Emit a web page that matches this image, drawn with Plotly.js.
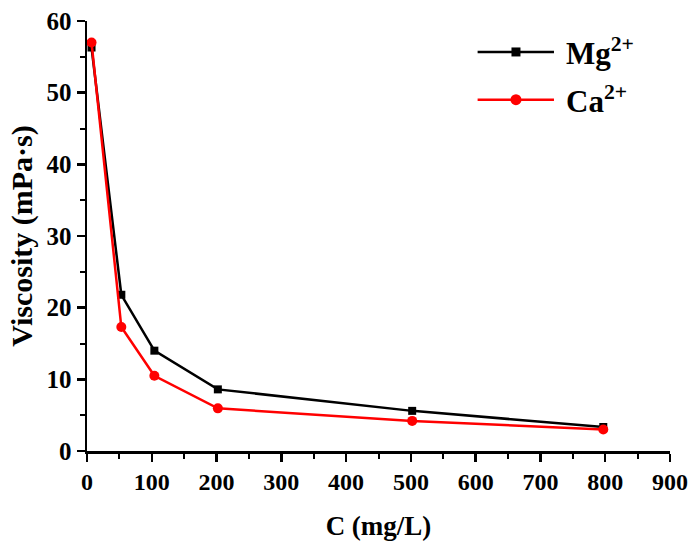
<!DOCTYPE html>
<html>
<head>
<meta charset="utf-8">
<script src="https://cdn.plot.ly/plotly-3.0.1.min.js"></script>
<style>html,body{margin:0;padding:0;background:#fff;}#chart{width:688px;height:541px;}</style>
</head>
<body>
<div id="chart"></div>
<script>
const concentration = [7, 53, 104, 202, 502, 797];
const mgViscosity = [56.3, 21.8, 14.0, 8.6, 5.6, 3.35];
const caViscosity = [57.0, 17.3, 10.5, 5.95, 4.2, 3.0];
const xTicks = [0, 100, 200, 300, 400, 500, 600, 700, 800, 900];
const yTicks = [0, 10, 20, 30, 40, 50, 60];
const seriesNames = ['Mg', 'Ca'];
const seriesColors = ['#000000', '#ff0000'];

const font = {family: 'Liberation Serif, Times New Roman, serif', color: '#000'};

const traces = [
  {x: concentration, y: mgViscosity, name: seriesNames[0], mode: 'lines+markers', type: 'scatter',
   line: {color: seriesColors[0], width: 2.5}, marker: {symbol: 'square', size: 8, color: seriesColors[0]}},
  {x: concentration, y: caViscosity, name: seriesNames[1], mode: 'lines+markers', type: 'scatter',
   line: {color: seriesColors[1], width: 2.5}, marker: {symbol: 'circle', size: 10, color: seriesColors[1]}}
];

// manual legend (paper coords) to get long sample lines
const legX0 = 0.670, legX1 = 0.801, legXm = 0.7358, legTextX = 0.818;
const legY = [0.928, 0.817];
const shapes = [];
const annotations = [];
seriesNames.forEach((n, i) => {
  shapes.push({type: 'line', xref: 'paper', yref: 'paper', x0: legX0, x1: legX1, y0: legY[i], y1: legY[i],
               line: {color: seriesColors[i], width: 2.5}});
  shapes.push({type: i === 0 ? 'rect' : 'circle', xref: 'paper', yref: 'paper',
               xsizemode: 'pixel', ysizemode: 'pixel', xanchor: legXm, yanchor: legY[i],
               x0: i === 0 ? -4.5 : -5.5, x1: i === 0 ? 4.5 : 5.5, y0: i === 0 ? -4.5 : -5.5, y1: i === 0 ? 4.5 : 5.5,
               fillcolor: seriesColors[i], line: {color: seriesColors[i], width: 0}});
  annotations.push({xref: 'paper', yref: 'paper', x: legTextX, y: legY[i], xanchor: 'left', yanchor: 'middle',
                    showarrow: false, text: '<b>' + n + '<sup>2+</sup></b>', font: Object.assign({}, font, {size: 31})});
});

const layout = {
  width: 688, height: 541,
  margin: {l: 87, r: 18, t: 21, b: 90},
  paper_bgcolor: '#fff', plot_bgcolor: '#fff',
  showlegend: false,
  shapes: shapes,
  annotations: annotations,
  xaxis: {range: [0, 900], tickvals: xTicks, ticktext: xTicks.map(v => '<b>' + v + '</b>'),
          ticks: 'outside', ticklen: 8, tickwidth: 2.5, tickcolor: '#000',
          showline: true, linecolor: '#000', linewidth: 2.5, showgrid: false, zeroline: false,
          minor: {dtick: 50, ticks: 'outside', ticklen: 5, tickwidth: 2, tickcolor: '#000', showgrid: false},
          tickfont: Object.assign({}, font, {size: 24}),
          title: {text: '<b>C (mg/L)</b>', font: Object.assign({}, font, {size: 27}), standoff: 22}},
  yaxis: {range: [0, 60], tickvals: yTicks, ticktext: yTicks.map(v => '<b>' + v + '</b>'),
          ticks: 'outside', ticklen: 8, tickwidth: 2.5, tickcolor: '#000',
          showline: true, linecolor: '#000', linewidth: 2.5, showgrid: false, zeroline: false,
          minor: {dtick: 5, ticks: 'outside', ticklen: 5, tickwidth: 2, tickcolor: '#000', showgrid: false},
          tickfont: Object.assign({}, font, {size: 25}),
          title: {text: '<b>Viscosity (mPa·s)</b>', font: Object.assign({}, font, {size: 30}), standoff: 5}}
};

Plotly.newPlot('chart', traces, layout, {displayModeBar: false, staticPlot: true});
</script>
</body>
</html>
